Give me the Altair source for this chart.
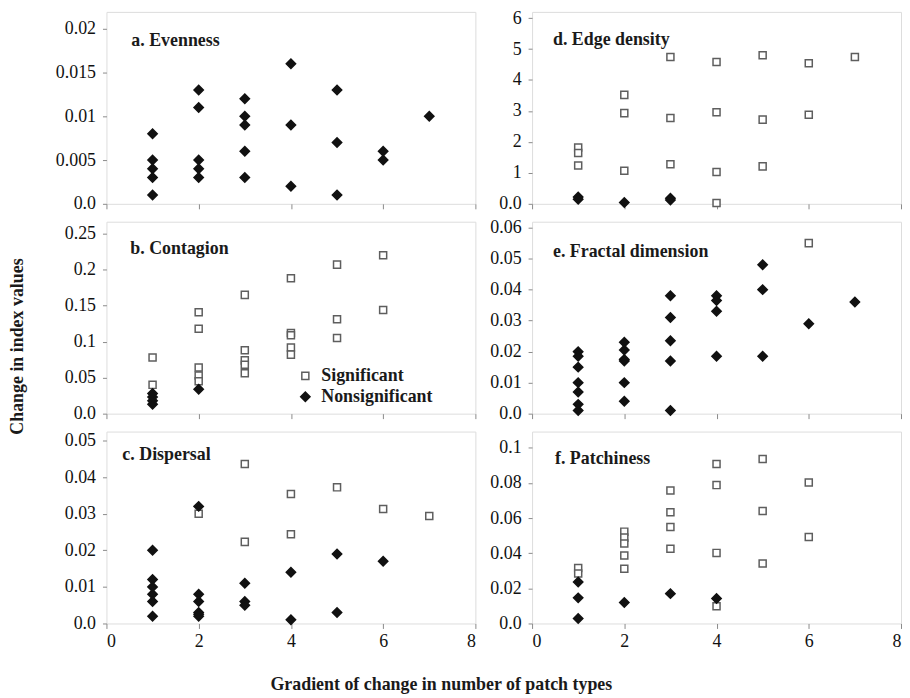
import altair as alt
import pandas as pd

FONT = "Liberation Serif"
groups = ["Significant", "Nonsignificant"]
x_ticks = [0, 2, 4, 6, 8]

# a. Evenness
a_sig_x = []
a_sig_y = []
a_non_x = [1, 1, 1, 1, 1, 2, 2, 2, 2, 2, 3, 3, 3, 3, 3, 4, 4, 4, 5, 5, 5, 6, 6, 7]
a_non_y = [0.008, 0.005, 0.004, 0.003, 0.001,
           0.013, 0.011, 0.005, 0.004, 0.003,
           0.012, 0.010, 0.009, 0.006, 0.003,
           0.016, 0.009, 0.002,
           0.013, 0.007, 0.001,
           0.006, 0.005,
           0.010]
a_ticks = [0, 0.005, 0.01, 0.015, 0.02]

# b. Contagion
b_sig_x = [1, 1, 2, 2, 2, 2, 2, 3, 3, 3, 3, 3, 4, 4, 4, 4, 4, 5, 5, 5, 6, 6]
b_sig_y = [0.078, 0.040,
           0.141, 0.118, 0.064, 0.053, 0.045,
           0.165, 0.088, 0.074, 0.068, 0.056,
           0.188, 0.112, 0.109, 0.092, 0.082,
           0.207, 0.131, 0.105,
           0.220, 0.144]
b_non_x = [1, 1, 1, 1, 2]
b_non_y = [0.028, 0.023, 0.018, 0.013, 0.034]
b_ticks = [0, 0.05, 0.1, 0.15, 0.2, 0.25]

# c. Dispersal
c_sig_x = [2, 3, 3, 4, 4, 5, 6, 7]
c_sig_y = [0.030, 0.0436, 0.0223, 0.0354, 0.0244, 0.0372, 0.0313, 0.0294]
c_non_x = [1, 1, 1, 1, 1, 1, 2, 2, 2, 2, 2, 2, 3, 3, 3, 4, 4, 5, 5, 6]
c_non_y = [0.020, 0.012, 0.010, 0.008, 0.006, 0.002,
           0.032, 0.008, 0.006, 0.003, 0.0025, 0.002,
           0.011, 0.006, 0.005,
           0.014, 0.001,
           0.019, 0.003,
           0.017]
c_ticks = [0, 0.01, 0.02, 0.03, 0.04, 0.05]

# d. Edge density
d_sig_x = [1, 1, 1, 2, 2, 2, 3, 3, 3, 4, 4, 4, 4, 5, 5, 5, 6, 6, 7]
d_sig_y = [1.82, 1.64, 1.24,
           3.52, 2.93, 1.07,
           4.74, 2.77, 1.28,
           4.58, 2.96, 1.03, 0.03,
           4.80, 2.72, 1.21,
           4.54, 2.88,
           4.74]
d_non_x = [1, 1, 2, 3, 3]
d_non_y = [0.22, 0.15, 0.04, 0.18, 0.12]
d_ticks = [0, 1, 2, 3, 4, 5, 6]

# e. Fractal dimension
e_sig_x = [6]
e_sig_y = [0.055]
e_non_x = [1, 1, 1, 1, 1, 1, 1, 2, 2, 2, 2, 2, 2, 3, 3, 3, 3, 3, 4, 4, 4, 4, 5, 5, 5, 6, 7]
e_non_y = [0.020, 0.0185, 0.015, 0.010, 0.007, 0.003, 0.001,
           0.023, 0.0205, 0.0175, 0.017, 0.010, 0.004,
           0.038, 0.031, 0.0235, 0.017, 0.001,
           0.038, 0.0365, 0.033, 0.0185,
           0.048, 0.040, 0.0185,
           0.029,
           0.036]
e_ticks = [0, 0.01, 0.02, 0.03, 0.04, 0.05, 0.06]

# f. Patchiness
f_sig_x = [1, 1, 2, 2, 2, 2, 2, 3, 3, 3, 3, 4, 4, 4, 4, 5, 5, 5, 6, 6]
f_sig_y = [0.0316, 0.0285,
           0.0523, 0.0489, 0.0455, 0.0387, 0.0312,
           0.0757, 0.0633, 0.055, 0.0425,
           0.0908, 0.0788, 0.0402, 0.0098,
           0.0937, 0.064, 0.0342,
           0.0803, 0.0493]
f_non_x = [1, 1, 1, 2, 3, 4]
f_non_y = [0.0236, 0.0146, 0.0028, 0.0119, 0.017, 0.0142]
f_ticks = [0, 0.02, 0.04, 0.06, 0.08, 0.1]

LABEL_EXPR = "datum.value == 0 ? '0.0' : format(datum.value, '~g')"
W = 371
H = 193
LBL = 18


def panel(title, sx, sy, nx, ny, ymax, yticks, tx, ty,
          xlabels=False, legend=None, ytitle=None):
    df = pd.DataFrame({
        "x": sx + nx,
        "y": sy + ny,
        "sig": ["Significant"] * len(sx) + ["Nonsignificant"] * len(nx),
    })
    df["order"] = [0 if s == "Significant" else 1 for s in df["sig"]]
    xaxis = alt.Axis(values=x_ticks, labels=xlabels, grid=False, domain=False,
                     tickSize=5, tickColor="#8a8a8a", labelFont=FONT,
                     labelFontSize=LBL, labelColor="#111111", labelPadding=4)
    yargs = dict(values=yticks, labelExpr=LABEL_EXPR, grid=False, domain=False,
                 tickSize=4, tickColor="#8a8a8a", labelFont=FONT,
                 labelFontSize=LBL, labelColor="#111111", labelPadding=7)
    if ytitle:
        yargs.update(title=ytitle, titleX=-80, titleY=125, titleFont=FONT,
                     titleFontSize=18, titleFontWeight="bold", titleColor="#1a1a1a")
    else:
        yargs.update(title=None)
    leg = legend
    enc = dict(
        x=alt.X("x:Q", scale=alt.Scale(domain=[0, 8], nice=False), axis=xaxis, title=None),
        y=alt.Y("y:Q", scale=alt.Scale(domain=[0, ymax], nice=False, zero=True),
                axis=alt.Axis(**yargs)),
        shape=alt.Shape("sig:N", scale=alt.Scale(domain=groups, range=["square", "diamond"]), legend=leg),
        fill=alt.Fill("sig:N", scale=alt.Scale(domain=groups, range=["white", "#111111"]), legend=leg),
        stroke=alt.Stroke("sig:N", scale=alt.Scale(domain=groups, range=["#5e5e5e", "#111111"]), legend=leg),
        size=alt.Size("sig:N", scale=alt.Scale(domain=groups, range=[50, 88]), legend=leg),
        order=alt.Order("order:Q"),
    )
    pts = alt.Chart(df).mark_point(opacity=1, fillOpacity=1, strokeWidth=1.5).encode(**enc)
    lab = alt.Chart(pd.DataFrame({"t": [title]})).mark_text(
        align="left", baseline="alphabetic", font=FONT, fontSize=18,
        fontWeight="bold", color="#1a1a1a"
    ).encode(text="t:N", x=alt.value(tx), y=alt.value(ty))
    return alt.layer(pts, lab).properties(width=W, height=H)


legend_b = alt.Legend(title=None, orient="none", legendX=191, legendY=146, padding=0,
                      rowPadding=3, labelOffset=7, labelFont=FONT, labelFontSize=18,
                      labelFontWeight="bold", labelColor="#1a1a1a", symbolStrokeWidth=1.5)

pa = panel("a. Evenness", a_sig_x, a_sig_y, a_non_x, a_non_y, 0.02193, a_ticks, 25, 34)
pb = panel("b. Contagion", b_sig_x, b_sig_y, b_non_x, b_non_y, 0.2666, b_ticks, 24, 32,
           legend=legend_b, ytitle="Change in  index values")
pc = panel("c. Dispersal", c_sig_x, c_sig_y, c_non_x, c_non_y, 0.05245, c_ticks, 16, 29,
           xlabels=True)
pd_ = panel("d. Edge density", d_sig_x, d_sig_y, d_non_x, d_non_y, 6.2, d_ticks, 21, 33)
pe = panel("e. Fractal dimension", e_sig_x, e_sig_y, e_non_x, e_non_y, 0.0619, e_ticks, 21, 35)
pf = panel("f. Patchiness", f_sig_x, f_sig_y, f_non_x, f_non_y, 0.1093, f_ticks, 23, 33,
           xlabels=True)

chans = dict(shape="independent", fill="independent", stroke="independent", size="independent")

chart = alt.concat(pa, pd_, pb, pe, pc, pf, columns=2,
                   spacing=alt.RowColnumber(row=18, column=57), bounds="flush"
                   ).resolve_scale(**chans).resolve_legend(**chans).properties(
    padding={"left": 0, "top": -2, "right": 0, "bottom": 0},
    title=alt.TitleParams("Gradient of change in number of patch types", orient="bottom",
                          anchor="middle", font=FONT, fontSize=18, fontWeight="bold",
                          color="#1a1a1a", offset=25, dx=-14),
).configure_view(stroke="#8a8a8a", strokeWidth=2).configure_axis(
    labelFont=FONT, labelFontSize=LBL, titleFont=FONT
).configure(font=FONT)

chart.save("out.html", embed_options={"renderer": "svg", "actions": False})
